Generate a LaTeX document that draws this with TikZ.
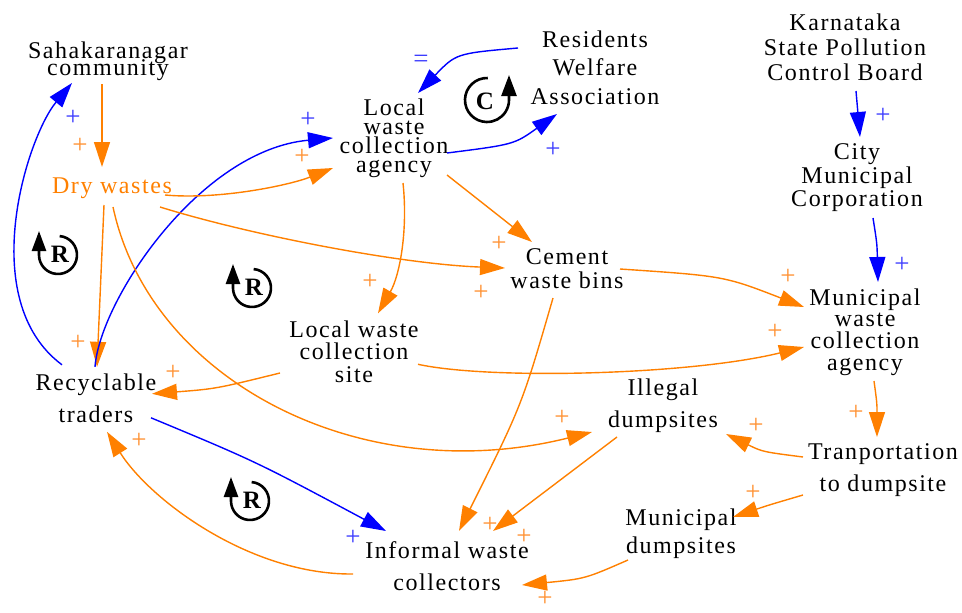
\documentclass[tikz,border=0pt]{standalone}
\usepackage{fontspec}
\setmainfont{Liberation Serif}
\newfontfamily\varfamily[LetterSpace=6.5]{Liberation Serif}
\usetikzlibrary{arrows.meta,calc}

\definecolor{linkorange}{RGB}{255,128,0}
\definecolor{linkblue}{RGB}{0,0,255}
\definecolor{signorange}{RGB}{255,145,50}
\definecolor{signblue}{RGB}{60,60,255}

% variable names: serif, loosely tracked, with a chosen line pitch
\newcommand{\varfont}[1]{\varfamily\fontsize{24}{#1}\selectfont\lineskiplimit=-100pt\relax}

\tikzset{
  var/.style={align=center, inner sep=0pt, text=black, font=\varfont{#1}},
  var/.default=24,
  link/.style={line width=1.4pt, -{Triangle[length=25pt,width=16pt]}},
  olink/.style={link, draw=linkorange},
  blink/.style={link, draw=linkblue},
  sign/.style={inner sep=0pt, font=\fontsize{27}{27}\selectfont},
  osign/.style={sign, text=signorange},
  bsign/.style={sign, text=signblue},
  loopline/.style={line width=2.6pt, draw=black},
  loopletter/.style={inner sep=0pt, font=\bfseries\fontsize{25}{25}\selectfont},
  pics/rloop/.style={code={
    \draw[loopline, -{Triangle[length=20pt,width=14pt]}]
      (-85:19) arc[start angle=-85, end angle=180, radius=19] -- ++(0,-24);
    \node[loopletter] at (2,-1) {R};
  }},
  pics/cloop/.style={code={
    \draw[loopline, -{Triangle[length=21pt,width=15pt]}]
      (-88:22) arc[start angle=-88, end angle=-360, radius=22] -- ++(0,-25);
    \node[loopletter] at (-2,1) {C};
  }},
}

\begin{document}
\begin{tikzpicture}[x=1pt, y=-1pt]
\useasboundingbox (0,0) rectangle (962,613);

% variables
\node[var=17] (saha) at (108,61) {Sahakaranagar\\community};
\node[var, text=linkorange] (dry) at (112,188.5) {Dry wastes};
\node[var=19] (lwca) at (394,138) {Local\\waste\\collection\\agency};
\node[var=28.5] (rwa) at (595,67.4) {Residents\\Welfare\\Association};
\node[var=25] (kspcb) at (845,47) {Karnataka\\State Pollution\\Control Board};
\node[var=23.5] (cmc) at (857,178) {City\\Municipal\\Corporation};
\node[var=24] (cwb) at (567,269) {Cement\\waste bins};
\node[var=21.7] (mwca) at (865,332) {Municipal\\waste\\collection\\agency};
\node[var=22.5] (lwcs) at (354,351.3) {Local waste\\collection\\site};
\node[var=32] (rt) at (96,397.8) {Recyclable\\traders};
\node[var=32] (ild) at (663,405.5) {Illegal\\dumpsites};
\node[var=32] (tr) at (883,470.5) {Tranportation\\to dumpsite};
\node[var=28] (md) at (681,533.5) {Municipal\\dumpsites};
\node[var=32] (iwc) at (447,566) {Informal waste\\collectors};

% loop markers
\pic at (58,255) {rloop};
\pic at (252,288) {rloop};
\pic at (250,501) {rloop};
\pic at (487,100) {cloop};

% causal links
\draw[olink] ($(saha)+(-6,23)$) -- ($(dry)+(-10,-21.5)$);
\draw[blink] ($(rt)+(-34,-33)$) .. controls (-25,300) and (27,137) .. ($(saha)+(-36,22)$);
\draw[olink] ($(dry)+(-8,16.5)$) -- ($(rt)+(1,-31)$);
\draw[blink] ($(rt)+(-1,-31)$) .. controls (100,300) and (200,150) .. ($(lwca)+(-61,0)$);
\draw[olink] ($(dry)+(53,6.5)$) .. controls (220,200) and (290,185) .. ($(lwca)+(-61,30)$);
\draw[olink] ($(dry)+(48,18.5)$) .. controls (250,235) and (400,264) .. ($(cwb)+(-62,-1)$);
\draw[olink] ($(dry)+(1,18.5)$) .. controls (150,380) and (360,490) .. ($(ild)+(-71,26.5)$);
\draw[blink] ($(lwca)+(53,15)$) .. controls (514,144.5) .. ($(rwa)+(-38,46.6)$);
\draw[blink] ($(rwa)+(-77,-19.4)$) .. controls (456,53.5) .. ($(lwca)+(24,-45)$);
\draw[olink] ($(lwca)+(9,45)$) .. controls (408,230) and (400,275) .. ($(lwcs)+(24,-38)$);
\draw[olink] ($(lwca)+(53,37)$) -- ($(cwb)+(-35,-27)$);
\draw[olink] ($(cwb)+(-14,29)$) .. controls (522,405) .. ($(iwc)+(12,-35)$);
\draw[olink] ($(cwb)+(53,0)$) .. controls (724,276) .. ($(mwca)+(-61,-25)$);
\draw[olink] ($(lwcs)+(64,13)$) .. controls (490,380) and (690,375) .. ($(mwca)+(-61,15)$);
\draw[olink] ($(lwcs)+(-74,21.7)$) .. controls (216,388.8) .. ($(rt)+(56,-4)$);
\draw[blink] ($(cmc)+(16,40)$) .. controls (877,243.3) .. ($(mwca)+(13,-50)$);
\draw[blink] ($(kspcb)+(11,44)$) -- ($(cmc)+(3,-41)$);
\draw[olink] ($(mwca)+(9,49)$) .. controls (877,403) .. ($(tr)+(-6,-33.5)$);
\draw[olink] ($(tr)+(-80,-13.5)$) .. controls (762.5,451.8) .. ($(ild)+(63,28.5)$);
\draw[olink] ($(tr)+(-80,24.5)$) .. controls (769,505) .. ($(md)+(52,-16.5)$);
\draw[olink] ($(ild)+(-46,31.5)$) -- ($(iwc)+(46,-35)$);
\draw[olink] ($(md)+(-53,26.5)$) .. controls (585,578.8) .. ($(iwc)+(75,19)$);
\draw[olink] ($(iwc)+(-94,8)$) .. controls (250,575) and (150,500) .. ($(rt)+(11,34)$);
\draw[blink] ($(rt)+(55,20)$) .. controls (256,461.5) .. ($(iwc)+(-61,-35)$);

% link polarities
\node[osign] (p1) at (80,146) {+};
\node[bsign] (p2) at (73,118) {+};
\node[osign] (p3) at (78,343) {+};
\node[bsign] (p4) at (308,120) {+};
\node[osign] (p5) at (302,157) {+};
\node[osign] (p6) at (481,293) {+};
\node[osign] (p7) at (562,418) {+};
\node[bsign] (p8) at (553,150) {+};
\node[bsign] (p9) at (421,61) {=};
\node[osign] (p10) at (370,282) {+};
\node[osign] (p11) at (499,244) {+};
\node[osign] (p12) at (490,525) {+};
\node[osign] (p21) at (524,537) {+};
\node[osign] (p13) at (788,277) {+};
\node[osign] (p14) at (775,332) {+};
\node[osign] (p15) at (173,373) {+};
\node[bsign] (p16) at (902,265) {+};
\node[bsign] (p17) at (883,116) {+};
\node[osign] (p18) at (856,413) {+};
\node[osign] (p19) at (756,426) {+};
\node[osign] (p20) at (753,493) {+};
\node[osign] (p22) at (545,599) {+};
\node[osign] (p23) at (139,441) {+};
\node[bsign] (p24) at (353,538) {+};
\end{tikzpicture}
\end{document}
